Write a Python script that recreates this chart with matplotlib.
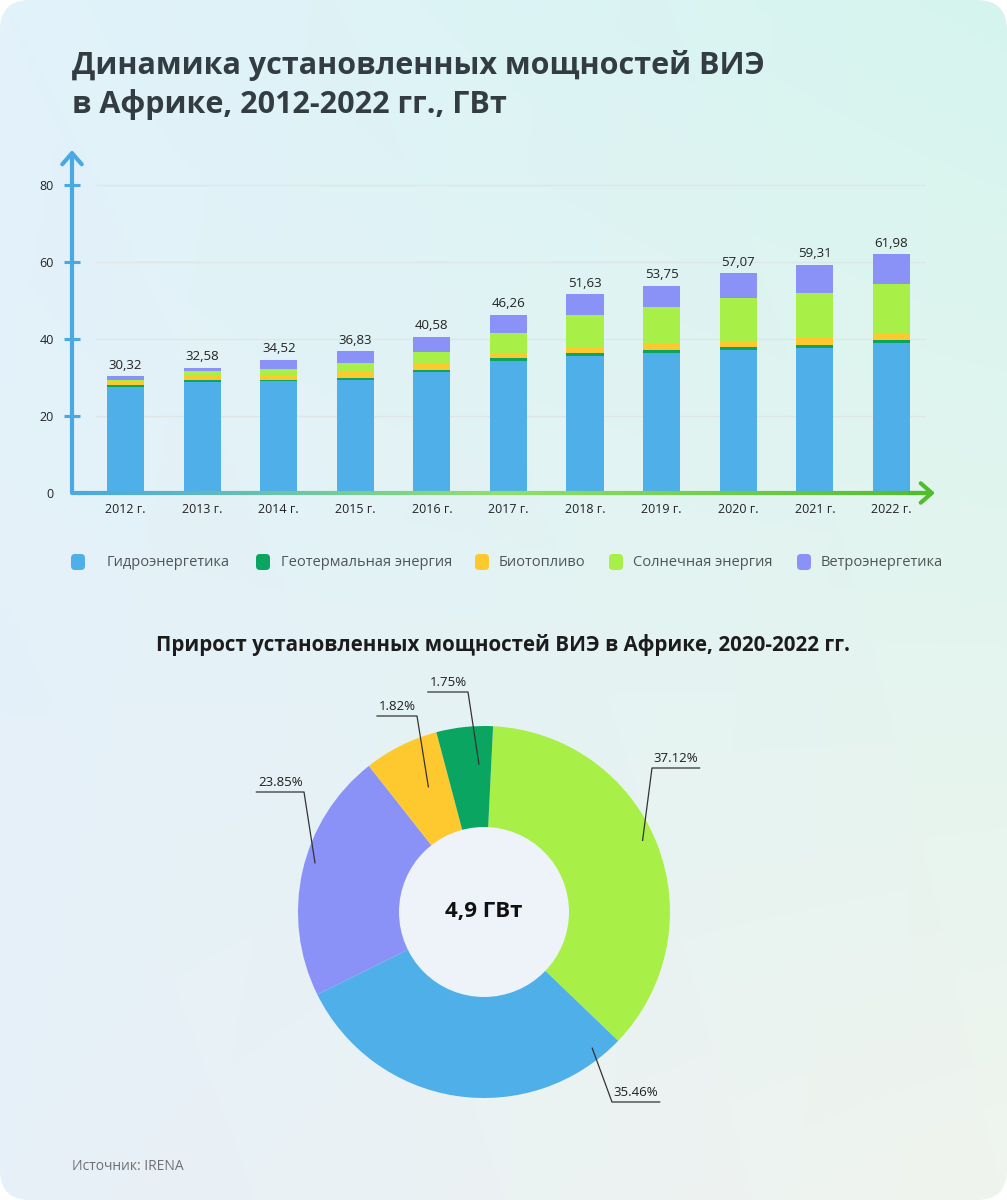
import numpy as np
import matplotlib
matplotlib.use("Agg")
import matplotlib.pyplot as plt
from matplotlib.patches import FancyBboxPatch, Circle
from matplotlib.collections import LineCollection
from matplotlib.colors import LinearSegmentedColormap, to_rgb

plt.rcParams['font.family'] = ['Open Sans', 'DejaVu Sans']

# ---- data ----
years = ['2012 г.', '2013 г.', '2014 г.', '2015 г.', '2016 г.', '2017 г.',
         '2018 г.', '2019 г.', '2020 г.', '2021 г.', '2022 г.']
hydro = [27.60, 28.90, 29.07, 29.48, 31.51, 34.30, 35.60, 36.40, 37.10, 37.70, 38.85]
geothermal = [0.35, 0.40, 0.40, 0.50, 0.50, 0.86, 0.88, 0.70, 0.82, 0.86, 0.86]
biofuel = [1.10, 1.45, 1.30, 1.45, 1.40, 1.30, 1.55, 1.60, 1.65, 1.70, 1.72]
solar = [0.20, 0.95, 1.55, 2.40, 3.27, 5.10, 8.20, 9.50, 11.10, 11.60, 12.85]
wind = [1.07, 0.88, 2.20, 3.00, 3.90, 4.70, 5.40, 5.55, 6.40, 7.45, 7.70]
total_labels = ['30,32', '32,58', '34,52', '36,83', '40,58', '46,26',
                '51,63', '53,75', '57,07', '59,31', '61,98']

series_names = ['Гидроэнергетика', 'Геотермальная энергия', 'Биотопливо',
                'Солнечная энергия', 'Ветроэнергетика']
series_colors = ['#4fafe8', '#0aa561', '#fec92f', '#a8ef48', '#8a92f7']

# pie: share of each wedge as drawn, and the percentage text printed next to it
pie_names = ['Солнечная энергия', 'Гидроэнергетика', 'Ветроэнергетика',
             'Биотопливо', 'Геотермальная энергия']
pie_shares = [36.4, 30.5, 21.7, 6.5, 4.9]
pie_labels = ['37.12%', '35.46%', '23.85%', '1.82%', '1.75%']
pie_center_text = '4,9 ГВт'

title = 'Динамика установленных мощностей ВИЭ\nв Африке, 2012-2022 гг., ГВт'
pie_title = 'Прирост установленных мощностей ВИЭ в Африке, 2020-2022 гг.'
source = 'Источник: IRENA'

W, H = 1007, 1200
BLUE = '#4aa8e2'
GREEN = '#52bd2c'

fig = plt.figure(figsize=(W / 100, H / 100), dpi=100, facecolor='white')

# ---- background card with soft gradient ----
bg = fig.add_axes([0, 0, 1, 1])
bg.set_xlim(0, W)
bg.set_ylim(H, 0)
bg.axis('off')
tl, tr = np.array(to_rgb('#e2f2fb')), np.array(to_rgb('#d6f5ee'))
bl, br = np.array(to_rgb('#e7f0f8')), np.array(to_rgb('#f0f4ee'))
gy, gx = np.mgrid[0:1:120j, 0:1:100j]
grad = ((1 - gx)[..., None] * (1 - gy)[..., None] * tl + gx[..., None] * (1 - gy)[..., None] * tr
        + (1 - gx)[..., None] * gy[..., None] * bl + gx[..., None] * gy[..., None] * br)
img = bg.imshow(grad, extent=(0, W, H, 0), aspect='auto', interpolation='bilinear', zorder=0)
card = FancyBboxPatch((0, 0), W, H, boxstyle='round,pad=0,rounding_size=30',
                      transform=bg.transData, facecolor='none', edgecolor='none')
bg.add_patch(card)
img.set_clip_path(card)

bg.text(72, 85, title, fontsize=22, fontweight='bold', color='#323c42',
        ha='left', va='center', linespacing=1.3)

# legend
legend_marker_x = [78, 263, 482, 616, 804]
legend_text_x = [107, 281, 499, 633, 821]
for name, color, mx, tx in zip(series_names, series_colors, legend_marker_x, legend_text_x):
    bg.add_patch(FancyBboxPatch((mx - 7, 554), 14, 16, boxstyle='round,pad=0,rounding_size=4',
                                facecolor=color, edgecolor='none'))
    bg.text(tx, 562, name, fontsize=10.5, color='#505558', ha='left', va='center')

bg.text(503, 645, pie_title, fontsize=14.8, fontweight='bold', color='#1c1c1c',
        ha='center', va='center')
bg.text(72, 1166, source, fontsize=10, color='#6d7073', ha='left', va='center')

# ---- stacked bar chart ----
ax = fig.add_axes([72 / W, 1 - 493 / H, (935 - 72) / W, (493 - 150) / H])
ax.patch.set_alpha(0)
ax.set_xlim(-0.70, 10.57)
ax.set_ylim(0, 89.1)
for s in ax.spines.values():
    s.set_visible(False)

x = np.arange(len(years))
ax.hlines([20, 40, 60, 80], -0.40, 10.44, color='#dde5e6', lw=1, zorder=0)

bottom = np.zeros(len(years))
for vals, color in zip([hydro, geothermal, biofuel, solar, wind], series_colors):
    ax.bar(x, vals, width=0.485, bottom=bottom, color=color, zorder=2)
    bottom += np.array(vals)

for xi, top, lab in zip(x, bottom, total_labels):
    ax.text(xi, top + 1.2, lab, ha='center', va='bottom', fontsize=9.5, color='#222222')

ax.set_xticks(x)
ax.set_xticklabels(years, fontsize=9, color='#222222')
ax.tick_params(axis='x', length=0, pad=7)
ax.set_yticks([0, 20, 40, 60, 80])
ax.set_yticklabels(['0', '20', '40', '60', '80'], fontsize=9, color='#222222')
ax.tick_params(axis='y', direction='inout', length=12, width=2.2, color=BLUE, pad=7)
ax.yaxis.get_major_ticks()[0].tick1line.set_visible(False)

# y axis arrow
ax.annotate('', xy=(0, 1), xytext=(0, 0), xycoords='axes fraction',
            arrowprops=dict(arrowstyle='->,head_length=0.8,head_width=0.7', color=BLUE,
                            lw=3, shrinkA=0, shrinkB=0), annotation_clip=False)
# x axis gradient line + arrow
cmap = LinearSegmentedColormap.from_list('axis', [BLUE, '#8fe06a', GREEN])
xs = np.linspace(-0.70, 10.50, 200)
segs = [[(xs[i], 0), (xs[i + 1], 0)] for i in range(len(xs) - 1)]
lc = LineCollection(segs, colors=cmap(np.linspace(0, 1, len(segs))), linewidths=3,
                    capstyle='butt', clip_on=False, zorder=3)
ax.add_collection(lc)
ax.annotate('', xy=(1, 0), xytext=(0.97, 0), xycoords='axes fraction',
            arrowprops=dict(arrowstyle='->,head_length=0.8,head_width=0.7', color=GREEN,
                            lw=3, shrinkA=0, shrinkB=0), annotation_clip=False)

# ---- donut chart ----
R_OUT, R_IN = 186, 85
pax = fig.add_axes([(484 - 200) / W, 1 - (912 + 200) / H, 400 / W, 400 / H])
pax.patch.set_alpha(0)
pie_colors = dict(zip(series_names, series_colors))
wedges, _ = pax.pie(pie_shares, colors=[pie_colors[n] for n in pie_names], radius=R_OUT,
                    startangle=87.2, counterclock=False, wedgeprops=dict(linewidth=0))
pax.set_xlim(-200, 200)
pax.set_ylim(-200, 200)
pax.set_aspect('equal')
pax.axis('off')
pax.add_patch(Circle((0, 0), R_IN, facecolor='#eef3fa', edgecolor='none', zorder=5))
pax.text(0, 0, pie_center_text, fontsize=16, fontweight='bold', color='#111111',
         ha='center', va='center', zorder=6)

# label layout: position of anchor inside wedge, elbow point, underline direction
label_layout = [
    (0.52, 174, (168, 144), 1),
    (0.93, 174, (128, -190), 1),
    (0.455, 176, (-180, 120), -1),
    (0.39, 137, (-67, 196), -1),
    (0.27, 148, (-16, 220), -1),
]
fig.canvas.draw()
renderer = fig.canvas.get_renderer()
for w, lab, (frac, rad, (ex, ey), side) in zip(wedges, pie_labels, label_layout):
    ang = np.deg2rad(w.theta1 + frac * (w.theta2 - w.theta1))
    ax0, ay0 = rad * np.cos(ang), rad * np.sin(ang)
    t = pax.text(ex + side * 1, ey + 3, lab, fontsize=9.5, color='#1e1e1e',
                 ha='left' if side > 0 else 'right', va='bottom', zorder=7, clip_on=False)
    tw = t.get_window_extent(renderer).width
    ux = ex + side * (tw + 3)
    pax.plot([ax0, ex, ux], [ay0, ey, ey], color='#333333', lw=0.9, zorder=7, clip_on=False)

fig.savefig('out.png', dpi=100, facecolor='white')
